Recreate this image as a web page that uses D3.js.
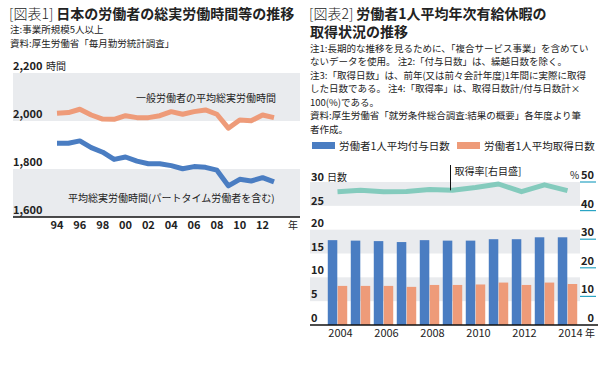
<!DOCTYPE html>
<html>
<head>
<meta charset="utf-8">
<script src="https://cdn.jsdelivr.net/npm/d3@7"></script>
<style>
  html, body { margin: 0; padding: 0; background: #fff; }
  svg { display: block; font-family: "Noto Sans CJK JP", "Noto Sans", sans-serif; }
</style>
</head>
<body>
<div id="chart"></div>
<script>
// ---------- Data: chart 1 (hours) ----------
const years1 = [1994, 1995, 1996, 1997, 1998, 1999, 2000, 2001, 2002, 2003,
                2004, 2005, 2006, 2007, 2008, 2009, 2010, 2011, 2012, 2013];
const generalHours = [2032, 2035, 2049, 2025, 2008, 2007, 2022, 2014, 2014, 2022,
                      2039, 2028, 2039, 2046, 2028, 1970, 2004, 2001, 2025, 2014];
const allHours = [1907, 1907, 1917, 1889, 1870, 1840, 1850, 1833, 1822, 1822,
                  1814, 1801, 1810, 1807, 1795, 1730, 1757, 1750, 1764, 1746];
const yearTicks1 = [1994, 1996, 1998, 2000, 2002, 2004, 2006, 2008, 2010, 2012];
const hourTicks = [1600, 1800, 2000, 2200];

// ---------- Data: chart 2 (paid leave) ----------
const years2 = [2004, 2005, 2006, 2007, 2008, 2009, 2010, 2011, 2012, 2013, 2014];
const grantDays = [17.8, 17.7, 17.6, 17.4, 17.8, 17.7, 17.7, 18.0, 18.0, 18.4, 18.4];
const takenDays = [8.2, 8.2, 8.2, 8.0, 8.4, 8.4, 8.5, 8.9, 8.4, 8.9, 8.6];
const takeRate = [46.6, 47.1, 46.6, 46.7, 47.4, 47.1, 48.1, 49.3, 46.6, 49.0, 47.0];
const yearTicks2 = [2004, 2006, 2008, 2010, 2012, 2014];
const dayTicks = [0, 5, 10, 15, 20, 25, 30];
const rateTicks = [0, 10, 20, 30, 40, 50];

const W = 615, H = 374;
const C_BAND = "#e9ebee";
const C_ORANGE = "#ee9b79";
const C_BLUE = "#4a7dc2";
const C_TEAL = "#84cbbd";
const C_TEXT = "#222";

const svg = d3.select("#chart").append("svg")
  .attr("width", W).attr("height", H);

// title made of a light "[図表n]" prefix and a bold remainder
function title(g, x, y, prefix, rest) {
  const p = g.append("text").attr("x", x).attr("y", y)
    .attr("font-size", 14).attr("font-weight", 300).attr("fill", C_TEXT).text(prefix);
  const w = p.node().getComputedTextLength();
  g.append("text").attr("x", x + w + 3).attr("y", y)
    .attr("font-size", 14).attr("font-weight", 700).attr("fill", C_TEXT).text(rest);
}

// ================= Chart 1 =================
const g1 = svg.append("g");

title(g1, 9, 18.5, "[図表1]", "日本の労働者の総実労働時間等の推移");
g1.append("text").attr("x", 10).attr("y", 33).attr("font-size", 9.5).attr("fill", C_TEXT)
  .text("注:事業所規模5人以上");
g1.append("text").attr("x", 10).attr("y", 47).attr("font-size", 9.5).attr("fill", C_TEXT)
  .text("資料:厚生労働省「毎月勤労統計調査」");

const x1 = d3.scaleLinear().domain([1994, 2013]).range([57, 274]);
const y1 = d3.scaleLinear().domain([1600, 2200]).range([217, 73]);

// shaded bands: 2200-2000, 1800-1600
const bands1 = [[2000, 2200], [1600, 1800]];
g1.selectAll("rect.band").data(bands1).join("rect")
  .attr("x", 13).attr("width", 287)
  .attr("y", d => y1(d[1])).attr("height", d => y1(d[0]) - y1(d[1]))
  .attr("fill", C_BAND);

// y tick labels (sit above their gridline)
g1.selectAll("text.ytick").data(hourTicks).join("text")
  .attr("x", 13).attr("y", d => y1(d) - 3)
  .attr("font-size", 11).attr("font-weight", 700).attr("fill", C_TEXT)
  .text(d => d3.format(",")(d));
g1.append("text").attr("x", 46).attr("y", y1(2200) - 3)
  .attr("font-size", 10).attr("fill", C_TEXT).text("時間");

// axis line
g1.append("line").attr("x1", 13).attr("x2", 300)
  .attr("y1", y1(1600)).attr("y2", y1(1600))
  .attr("stroke", "#111").attr("stroke-width", 1.5);

// x tick labels
g1.selectAll("text.xtick").data(yearTicks1).join("text")
  .attr("x", d => x1(d)).attr("y", 229)
  .attr("text-anchor", "middle")
  .attr("font-size", 11).attr("font-weight", 700).attr("fill", C_TEXT)
  .text(d => String(d).slice(2));
g1.append("text").attr("x", 293).attr("y", 229).attr("text-anchor", "middle")
  .attr("font-size", 10).attr("fill", C_TEXT).text("年");

const line1 = d3.line().x((d, i) => x1(years1[i])).y(d => y1(d));
g1.append("path").datum(generalHours)
  .attr("d", line1).attr("fill", "none")
  .attr("stroke", C_ORANGE).attr("stroke-width", 5).attr("stroke-linejoin", "round");
g1.append("path").datum(allHours)
  .attr("d", line1).attr("fill", "none")
  .attr("stroke", C_BLUE).attr("stroke-width", 5).attr("stroke-linejoin", "round");

g1.append("text").attr("x", 136).attr("y", 101.5)
  .attr("font-size", 10).attr("fill", C_TEXT).text("一般労働者の平均総実労働時間");
g1.append("text").attr("x", 68).attr("y", 201.5)
  .attr("font-size", 10).attr("fill", C_TEXT).text("平均総実労働時間(パートタイム労働者を含む)");

// ================= Chart 2 =================
const g2 = svg.append("g");

title(g2, 309, 18.5, "[図表2]", "労働者1人平均年次有給休暇の");
g2.append("text").attr("x", 310).attr("y", 37)
  .attr("font-size", 14).attr("font-weight", 700).attr("fill", C_TEXT)
  .text("取得状況の推移");

const notes2 = [
  "注1:長期的な推移を見るために、「複合サービス事業」を含めてい",
  "ないデータを使用。 注2:「付与日数」は、繰越日数を除く。",
  "注3:「取得日数」は、前年(又は前々会計年度)1年間に実際に取得",
  "した日数である。 注4:「取得率」は、取得日数計/付与日数計×",
  "100(%)である。",
  "資料:厚生労働省「就労条件総合調査:結果の概要」各年度より筆",
  "者作成。"
];
g2.selectAll("text.note").data(notes2).join("text")
  .attr("x", 310).attr("y", (d, i) => 51.5 + i * 13.5)
  .attr("font-size", 9.5).attr("fill", C_TEXT)
  .text(d => d);

// legend
const legendItems = [
  { name: "労働者1人平均付与日数", color: C_BLUE, x: 312 },
  { name: "労働者1人平均取得日数", color: C_ORANGE, x: 457 }
];
const lg = g2.selectAll("g.legend").data(legendItems).join("g")
  .attr("transform", d => `translate(${d.x},142)`);
lg.append("rect").attr("width", 23).attr("height", 7).attr("fill", d => d.color);
lg.append("text").attr("x", 27).attr("y", 7.5)
  .attr("font-size", 10.5).attr("fill", C_TEXT).text(d => d.name);

// scales
const yL = d3.scaleLinear().domain([0, 30]).range([325, 182]);
const yR = d3.scaleLinear().domain([0, 50]).range([325, 182]);
const x0 = d3.scaleBand().domain(years2).range([326, 579])
  .paddingInner(0.12).paddingOuter(0.06);
const x1b = d3.scaleBand().domain(["grant", "taken"]).range([0, x0.bandwidth()]).padding(0.04);

// shaded bands 25-30, 15-20, 5-10
const bands2 = [[25, 30], [15, 20], [5, 10]];
g2.selectAll("rect.band").data(bands2).join("rect")
  .attr("x", 310).attr("width", 270)
  .attr("y", d => yL(d[1])).attr("height", d => yL(d[0]) - yL(d[1]))
  .attr("fill", C_BAND);

// left tick labels
g2.selectAll("text.ltick").data(dayTicks).join("text")
  .attr("x", 311).attr("y", d => yL(d) - (d >= 25 ? 1 : 3))
  .attr("font-size", 11).attr("font-weight", 700).attr("fill", C_TEXT)
  .text(d => d);
g2.append("text").attr("x", 327).attr("y", yL(30) - 1)
  .attr("font-size", 10).attr("fill", C_TEXT).text("日数");

// right tick labels with teal underline marks
g2.selectAll("line.rtick").data(rateTicks.filter(d => d > 0)).join("line")
  .attr("x1", 580).attr("x2", 596)
  .attr("y1", d => yR(d)).attr("y2", d => yR(d))
  .attr("stroke", "#2aa4c4").attr("stroke-width", 1.2);
g2.selectAll("text.rtick").data(rateTicks).join("text")
  .attr("x", 594).attr("y", d => yR(d) - 3)
  .attr("text-anchor", "end")
  .attr("font-size", 11).attr("font-weight", 700).attr("fill", C_TEXT)
  .text(d => d);
g2.append("text").attr("x", 570).attr("y", yR(50) - 3)
  .attr("font-size", 10).attr("fill", C_TEXT).text("%");

// bars
const groups = g2.selectAll("g.year").data(years2).join("g")
  .attr("transform", d => `translate(${x0(d)},0)`);
groups.append("rect")
  .attr("x", x1b("grant")).attr("width", x1b.bandwidth())
  .attr("y", (d, i) => yL(grantDays[i])).attr("height", (d, i) => yL(0) - yL(grantDays[i]))
  .attr("fill", C_BLUE);
groups.append("rect")
  .attr("x", x1b("taken")).attr("width", x1b.bandwidth())
  .attr("y", (d, i) => yL(takenDays[i])).attr("height", (d, i) => yL(0) - yL(takenDays[i]))
  .attr("fill", C_ORANGE);

// axis line
g2.append("line").attr("x1", 310).attr("x2", 598)
  .attr("y1", yL(0)).attr("y2", yL(0))
  .attr("stroke", "#111").attr("stroke-width", 1.5);

// x labels
g2.selectAll("text.xtick").data(yearTicks2).join("text")
  .attr("x", d => x0(d) + x0.bandwidth() / 2 + 3).attr("y", 337)
  .attr("text-anchor", "middle")
  .attr("font-size", 11).attr("fill", C_TEXT)
  .text(d => d);
g2.append("text").attr("x", 590).attr("y", 337).attr("text-anchor", "middle")
  .attr("font-size", 10).attr("fill", C_TEXT).text("年");

// take-rate line (right axis)
const rateLine = d3.line()
  .x((d, i) => x0(years2[i]) + x0.bandwidth() / 2)
  .y(d => yR(d));
g2.append("path").datum(takeRate)
  .attr("d", rateLine).attr("fill", "none")
  .attr("stroke", C_TEAL).attr("stroke-width", 5).attr("stroke-linejoin", "round");

// annotation pointer
const annX = x0(2009) + x0.bandwidth() / 2 - 2;
g2.append("line").attr("x1", annX).attr("x2", annX)
  .attr("y1", 165).attr("y2", yR(takeRate[5]))
  .attr("stroke", "#111").attr("stroke-width", 1);
g2.append("text").attr("x", annX + 4).attr("y", 175)
  .attr("font-size", 10).attr("fill", C_TEXT).text("取得率[右目盛]");
</script>
</body>
</html>
